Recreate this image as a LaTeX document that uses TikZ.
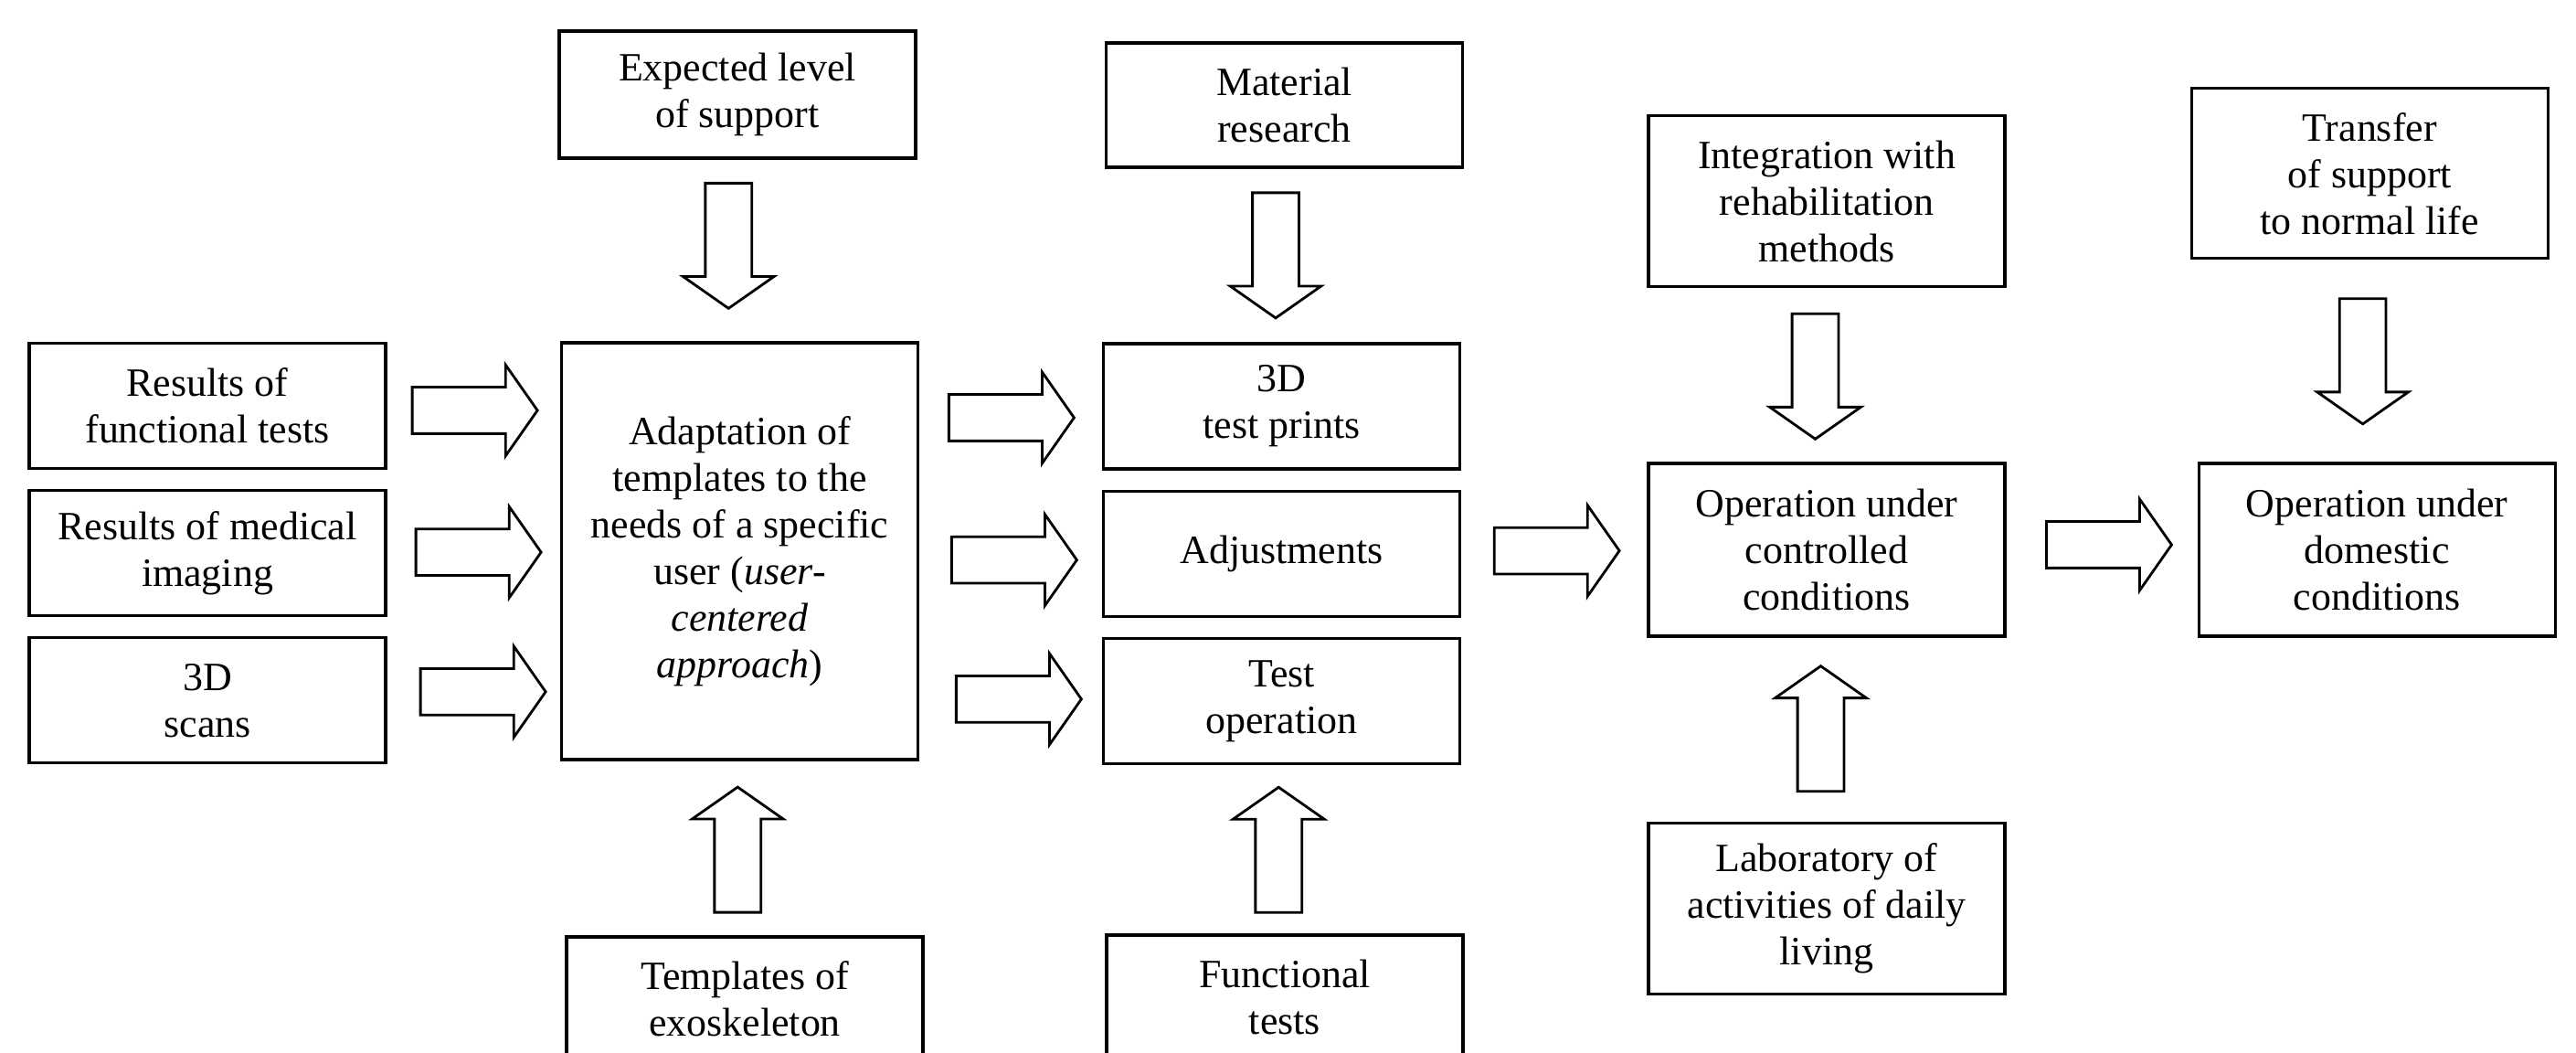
\documentclass[tikz,border=0pt]{standalone}
\usepackage{fontspec}
\setmainfont{Liberation Serif}
\usetikzlibrary{shapes.arrows,calc,positioning}

\begin{document}
\begin{tikzpicture}[
    box/.style={rectangle, draw=black, line width=0.9pt, minimum width=3.9cm, minimum height=1.37cm, align=center, inner sep=2pt, font=\fontsize{12.5pt}{14.5pt}\selectfont},
    fat/.style={single arrow, draw=black, line width=0.8pt, minimum height=1.37cm, minimum width=0.97cm, single arrow head extend=0.245cm, single arrow tip angle=110, inner xsep=0pt, inner ysep=0.24cm},
    fatdown/.style={fat, rotate=-90},
    fatup/.style={fat, rotate=90}]
\useasboundingbox (0,0) rectangle (28.19,11.52);
\clip (0,0) rectangle (28.19,11.52);

\node[box] (func) at (2.27,7.08) {Results of\\functional tests};
\node[box, below=0.21 of func] (med) {Results of medical\\imaging};
\node[box, below=0.21 of med] (scans) {3D\\scans};
\node[box, minimum height=4.56cm] (adapt) at (8.095,5.49) {Adaptation of\\templates to the\\needs of a specific\\user (\textit{user-}\\\textit{centered}\\\textit{approach})};
\node[box, minimum height=1.39cm] (expect) at (8.07,10.485) {Expected level\\of support};
\node[box, minimum height=1.36cm] (templ) at (8.15,0.59) {Templates of\\exoskeleton};
\node[box] (prints) at (14.025,7.075) {3D\\test prints};
\node[box, below=0.21 of prints] (adjust) {Adjustments};
\node[box, below=0.21 of adjust] (testop) {Test\\operation};
\node[box, minimum height=1.36cm] (material) at (14.055,10.37) {Material\\research};
\node[box, minimum height=1.36cm] (ftests) at (14.06,0.61) {Functional\\tests};
\node[box, minimum height=1.89cm] (ctrl) at (19.99,5.505) {Operation under\\controlled\\conditions};
\node[box, minimum height=1.87cm, above=1.90 of ctrl] (integ) {Integration with\\rehabilitation\\methods};
\node[box, minimum height=1.87cm, below=2.01 of ctrl] (lab) {Laboratory of\\activities of daily\\living};
\node[box, minimum height=1.89cm, right=2.09 of ctrl] (dom) {Operation under\\domestic\\conditions};
\node[box, minimum height=1.86cm, above=2.21 of dom, xshift=-0.8mm] (transf) {Transfer\\of support\\to normal life};

\node[fat] (f1) at ($(func.east)!.5!(func.east -| adapt.west)+(-0.075,-0.05)$) {};
\node[fat] (f2) at ($(med.east)!.5!(med.east -| adapt.west)+(-0.035,0.01)$) {};
\node[fat] (f3) at ($(scans.east)!.5!(scans.east -| adapt.west)+(0.015,0.095)$) {};
\node[fat] (f4) at ($(prints.west)!.5!(prints.west -| adapt.east)+(-0.08,-0.125)$) {};
\node[fat] (f5) at ($(adjust.west)!.5!(adjust.west -| adapt.east)+(-0.05,-0.07)$) {};
\node[fat] (f6) at ($(testop.west)!.5!(testop.west -| adapt.east)+(0,0.02)$) {};
\node[fat] (f7) at ($(adjust.east)!.5!(ctrl.west)+(-0.06,0.01)$) {};
\node[fat] (f8) at ($(ctrl.east)!.5!(dom.west)+(-0.01,0.055)$) {};
\node[fatdown] (d1) at ($(expect.south)!.5!(adapt.north)+(-0.11,0.14)$) {};
\node[fatdown] (d2) at ($(material.south)!.5!(prints.north)+(-0.08,0.09)$) {};
\node[fatdown] (d3) at ($(integ.south)!.5!(ctrl.north)+(-0.125,0.075)$) {};
\node[fatdown] (d4) at ($(transf.south)!.5!(dom.north)+(-0.115,0.085)$) {};
\node[fatup] (u1) at ($(templ.north)!.5!(adapt.south)+(-0.05,-0.105)$) {};
\node[fatup] (u2) at ($(ftests.north)!.5!(testop.south)+(-0.05,-0.095)$) {};
\node[fatup] (u3) at ($(lab.north)!.5!(ctrl.south)+(-0.065,-0.08)$) {};
\end{tikzpicture}
\end{document}
